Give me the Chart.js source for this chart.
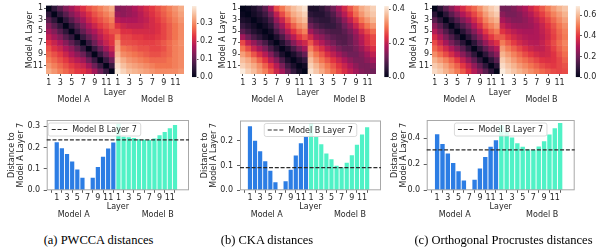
<!DOCTYPE html>
<html>
<head>
<meta charset="utf-8">
<script src="https://cdn.jsdelivr.net/npm/chart.js@4.4.0/dist/chart.umd.min.js"></script>
<style>
  body { margin: 0; background: #fff; }
  #fig { position: relative; width: 598px; height: 251px; overflow: hidden; background: #fff; }
  #fig canvas { position: absolute; }
  .cap { position: absolute; top: 233px; line-height: 14px; font-family: 'Liberation Serif', 'Times New Roman', serif; font-size: 12.5px; color: #000; white-space: nowrap; transform: translateX(-50%); }
</style>
</head>
<body>
<div id="fig">
  <canvas id="heat-a" width="190" height="108" style="left:0px;top:0px"></canvas>
  <canvas id="cbar-a" width="30" height="84" style="left:186px;top:0px"></canvas>
  <canvas id="heat-b" width="182" height="108" style="left:200px;top:0px"></canvas>
  <canvas id="cbar-b" width="26" height="84" style="left:380px;top:0px"></canvas>
  <canvas id="heat-c" width="174" height="108" style="left:400px;top:0px"></canvas>
  <canvas id="cbar-c" width="28" height="84" style="left:570px;top:0px"></canvas>
  <canvas id="bar-a" width="195" height="112" style="left:0px;top:112px"></canvas>
  <canvas id="bar-b" width="190" height="112" style="left:200px;top:112px"></canvas>
  <canvas id="bar-c" width="192" height="112" style="left:388px;top:112px"></canvas>
  <div class="cap" style="left:98.5px">(a) PWCCA distances</div>
  <div class="cap" style="left:267px">(b) CKA distances</div>
  <div class="cap" style="left:503.5px">(c) Orthogonal Procrustes distances</div>
</div>
<script>
// layer labels: Model A layers 1-12 followed by Model B layers 1-12
var layers = ['1', '2', '3', '4', '5', '6', '7', '8', '9', '10', '11', '12'];
var xLabels = layers.concat(layers);
var refLayer = 7; // row "Model A Layer 7" and dashed line "Model B Layer 7"

// distance matrices, rows = Model A layer, columns = Model A 1-12 then Model B 1-12
var pwccaDist = [
  [0, .05, .09, .13, .16, .19, .22, .25, .27, .29, .31, .33, .13, .14, .15, .17, .19, .21, .23, .25, .27, .29, .31, .33],
  [.05, 0, .05, .09, .13, .16, .19, .22, .25, .27, .29, .31, .15, .14, .15, .16, .18, .20, .22, .24, .26, .28, .30, .32],
  [.09, .05, 0, .05, .09, .13, .16, .20, .23, .25, .27, .29, .18, .17, .17, .17, .18, .19, .21, .23, .25, .27, .29, .31],
  [.13, .09, .05, 0, .05, .09, .13, .17, .20, .23, .25, .27, .22, .20, .19, .19, .19, .20, .21, .22, .24, .26, .28, .30],
  [.16, .13, .09, .05, 0, .055, .10, .14, .17, .20, .23, .25, .25, .22, .22, .21, .21, .21, .21, .22, .24, .26, .28, .30],
  [.19, .16, .13, .09, .055, 0, .058, .10, .14, .18, .21, .23, .28, .24, .24, .23, .23, .22, .22, .23, .24, .26, .28, .30],
  [.224, .196, .169, .134, .097, .058, 0, .058, .109, .157, .195, .223, .31, .25, .248, .244, .238, .236, .235, .242, .257, .272, .289, .305],
  [.25, .22, .20, .17, .14, .10, .058, 0, .06, .11, .16, .20, .32, .28, .27, .26, .25, .25, .24, .24, .25, .27, .29, .30],
  [.27, .25, .23, .20, .17, .14, .109, .06, 0, .06, .11, .16, .34, .30, .29, .28, .27, .26, .25, .25, .26, .27, .29, .30],
  [.29, .27, .25, .23, .20, .18, .157, .11, .06, 0, .06, .11, .36, .33, .31, .30, .29, .28, .27, .27, .27, .28, .29, .30],
  [.31, .29, .27, .25, .23, .21, .195, .16, .11, .06, 0, .06, .38, .35, .33, .32, .31, .30, .29, .28, .28, .28, .29, .30],
  [.33, .31, .29, .27, .25, .23, .223, .20, .16, .11, .06, 0, .395, .37, .35, .34, .33, .32, .31, .30, .30, .30, .30, .31]
];

var ckaDist = [
  [0, .01, .03, .06, .10, .17, .26, .30, .34, .37, .39, .41, .03, .03, .05, .08, .12, .17, .22, .27, .31, .35, .37, .39],
  [.01, 0, .02, .04, .07, .12, .20, .26, .31, .35, .37, .39, .05, .04, .04, .06, .09, .14, .19, .24, .29, .33, .36, .38],
  [.03, .02, 0, .02, .04, .08, .158, .21, .27, .32, .35, .37, .08, .06, .05, .05, .07, .10, .15, .20, .25, .30, .33, .36],
  [.06, .04, .02, 0, .02, .05, .117, .17, .23, .28, .32, .34, .12, .09, .07, .06, .06, .08, .12, .16, .21, .26, .30, .33],
  [.10, .07, .04, .02, 0, .02, .079, .13, .19, .24, .28, .31, .17, .13, .11, .09, .08, .08, .10, .13, .17, .22, .26, .29],
  [.17, .12, .08, .05, .02, 0, .033, .08, .14, .19, .24, .27, .22, .17, .15, .12, .10, .09, .09, .11, .15, .19, .23, .26],
  [.259, .20, .158, .117, .079, .033, 0, .037, .083, .141, .19, .216, .27, .215, .186, .149, .125, .099, .092, .111, .142, .184, .225, .255],
  [.30, .26, .21, .17, .13, .08, .037, 0, .03, .08, .13, .17, .31, .26, .23, .19, .16, .13, .11, .11, .13, .16, .20, .23],
  [.34, .31, .27, .23, .19, .14, .083, .03, 0, .03, .07, .11, .34, .30, .27, .23, .20, .17, .14, .12, .12, .14, .17, .20],
  [.37, .35, .32, .28, .24, .19, .141, .08, .03, 0, .03, .06, .37, .33, .30, .27, .24, .21, .18, .15, .13, .13, .15, .17],
  [.39, .37, .35, .32, .28, .24, .19, .13, .07, .03, 0, .02, .39, .36, .33, .30, .27, .24, .21, .18, .15, .13, .13, .14],
  [.42, .39, .37, .34, .31, .27, .216, .17, .11, .06, .02, 0, .41, .38, .35, .32, .29, .26, .23, .20, .17, .14, .13, .12]
];

var procDist = [
  [0, .08, .16, .24, .31, .37, .43, .47, .53, .59, .63, .66, .20, .20, .22, .26, .30, .35, .40, .45, .50, .55, .59, .62],
  [.08, 0, .08, .16, .23, .30, .355, .42, .48, .55, .60, .63, .24, .21, .21, .23, .27, .31, .36, .41, .46, .51, .55, .59],
  [.16, .08, 0, .08, .15, .22, .283, .36, .43, .51, .56, .59, .29, .25, .23, .23, .25, .28, .32, .37, .42, .47, .52, .56],
  [.24, .16, .08, 0, .075, .145, .21, .30, .37, .46, .51, .55, .34, .30, .27, .26, .26, .27, .30, .34, .39, .44, .49, .53],
  [.31, .23, .15, .075, 0, .075, .147, .23, .31, .40, .46, .50, .39, .35, .32, .30, .29, .29, .30, .33, .37, .42, .47, .51],
  [.37, .30, .22, .145, .075, 0, .076, .16, .24, .33, .40, .45, .45, .40, .36, .33, .31, .30, .30, .32, .36, .41, .46, .50],
  [.43, .355, .283, .21, .147, .076, 0, .081, .167, .256, .334, .385, .50, .45, .405, .362, .334, .314, .31, .336, .377, .428, .476, .516],
  [.47, .42, .36, .30, .23, .16, .081, 0, .085, .17, .25, .31, .55, .50, .46, .42, .38, .35, .33, .33, .36, .41, .46, .50],
  [.53, .48, .43, .37, .31, .24, .167, .085, 0, .085, .17, .24, .59, .55, .51, .47, .43, .40, .37, .35, .36, .39, .44, .48],
  [.59, .55, .51, .46, .40, .33, .256, .17, .085, 0, .085, .16, .63, .59, .55, .51, .48, .45, .42, .39, .38, .39, .42, .46],
  [.63, .60, .56, .51, .46, .40, .334, .25, .17, .085, 0, .08, .66, .62, .59, .55, .52, .49, .46, .43, .41, .40, .42, .44],
  [.66, .63, .59, .55, .50, .45, .385, .31, .24, .16, .08, 0, .69, .65, .62, .59, .56, .53, .50, .47, .45, .43, .42, .43]
];

Chart.defaults.font.family = "'DejaVu Sans', sans-serif";
Chart.defaults.font.size = 8;
Chart.defaults.font.lineHeight = 1.125;
Chart.defaults.color = '#262626';
Chart.defaults.animation = false;
Chart.defaults.plugins.legend.display = false;
Chart.defaults.plugins.tooltip.enabled = false;

// seaborn "rocket" colormap stops
var rocket = [
  [0, [3, 5, 26]], [0.143, [53, 25, 62]], [0.286, [112, 31, 87]], [0.429, [173, 23, 89]],
  [0.571, [225, 51, 66]], [0.714, [243, 118, 81]], [0.857, [246, 180, 143]], [1, [250, 235, 221]]
];

function rgb(c) { return 'rgb(' + c.map(Math.round).join(',') + ')'; }

function rocketColor(t) {
  t = Math.max(0, Math.min(1, t));
  for (var i = 1; i < rocket.length; i++) {
    if (t <= rocket[i][0]) {
      var a = rocket[i - 1], b = rocket[i];
      var f = (t - a[0]) / (b[0] - a[0]);
      return rgb(a[1].map((v, k) => v + (b[1][k] - v) * f));
    }
  }
  return rgb(rocket[rocket.length - 1][1]);
}

function matrixMax(m) { return Math.max.apply(null, m.map(r => Math.max.apply(null, r))); }

// "Model A" / "Model B" text under the x axis title
function modelLabels(y, fa, fb) {
  return {
    id: 'modelLabels',
    afterDraw(chart) {
      var a = chart.chartArea, ctx = chart.ctx;
      ctx.save();
      ctx.font = "8px 'DejaVu Sans'";
      ctx.fillStyle = '#262626';
      ctx.textAlign = 'center';
      ctx.textBaseline = 'middle';
      ctx.fillText('Model A', a.left + fa * (a.right - a.left), y);
      ctx.fillText('Model B', a.left + fb * (a.right - a.left), y);
      ctx.restore();
    }
  };
}

function drawHeatmap(id, matrix, yAxisW, titlePad) {
  var vmax = matrixMax(matrix);
  var datasets = matrix.map(function(row) {
    return {
      data: row.map(() => 1),
      backgroundColor: row.map(v => rocketColor(v / vmax)),
      borderWidth: 0,
      barPercentage: 1,
      categoryPercentage: 1
    };
  });
  var oddRows = layers.map((l, i) => i).filter(i => i % 2 === 0);
  new Chart(document.getElementById(id), {
    type: 'bar',
    data: { labels: xLabels, datasets: datasets },
    options: {
      responsive: false,
      devicePixelRatio: 1,
      layout: { padding: { left: 0, top: 5.5, right: 6, bottom: 0 } },
      scales: {
        x: {
          stacked: true,
          border: { display: false },
          grid: { display: true, drawOnChartArea: false, offset: false, tickLength: 2, color: '#333', lineWidth: 0.8 },
          ticks: { autoSkip: false, maxRotation: 0, padding: 2 },
          afterBuildTicks: s => { s.ticks = s.ticks.filter((t, i) => i % 2 === 0); },
          afterFit: s => { s.height = 34; },
          title: { display: true, text: 'Layer', padding: { top: 0, bottom: 10.8 } }
        },
        y: {
          stacked: true,
          min: 0,
          max: layers.length,
          reverse: true,
          border: { display: false },
          grid: { display: true, drawOnChartArea: false, tickLength: 2, color: '#333', lineWidth: 0.8 },
          ticks: { padding: 1, callback: v => layers[Math.floor(v)] },
          afterBuildTicks: s => { s.ticks = oddRows.map(i => ({ value: i + 0.5 })); },
          afterFit: s => { s.width = yAxisW; },
          title: { display: true, text: 'Model A Layer', padding: { top: titlePad, bottom: 0 } }
        }
      }
    },
    plugins: [modelLabels(100.3, 0.2, 0.805)]
  });
}

function drawColorbar(id, matrix, step, padLeft, axisW) {
  var vmax = matrixMax(matrix);
  new Chart(document.getElementById(id), {
    type: 'bar',
    data: {
      labels: [''],
      datasets: [{
        data: [vmax],
        barPercentage: 1,
        categoryPercentage: 1,
        borderWidth: 0,
        backgroundColor: function(c) {
          var a = c.chart.chartArea;
          if (!a) return null;
          var g = c.chart.ctx.createLinearGradient(0, a.bottom, 0, a.top);
          rocket.forEach(s => g.addColorStop(s[0], rgb(s[1])));
          return g;
        }
      }]
    },
    options: {
      responsive: false,
      devicePixelRatio: 1,
      layout: { padding: { left: padLeft, top: 3.3, right: 0, bottom: 6.7 } },
      scales: {
        x: { display: false },
        y: {
          position: 'right',
          min: 0,
          max: vmax,
          border: { display: false },
          grid: { display: true, drawOnChartArea: false, tickLength: 2, color: '#333', lineWidth: 0.8 },
          ticks: { stepSize: step, includeBounds: false, padding: 1.5, callback: v => v.toFixed(1) },
          afterFit: s => { s.width = axisW; }
        }
      }
    }
  });
}

function drawBars(id, matrix, ymax, step, o) {
  var row = matrix[refLayer - 1];
  var ref = row[layers.length + refLayer - 1];
  var points = row.map((v, i) => ({ x: i, y: v }));
  var tickPos = xLabels.map((l, i) => i).filter(i => i % 2 === 0);
  var legendText = 'Model B Layer ' + refLayer;

  var refPlugin = {
    id: 'refLine',
    afterDatasetsDraw(chart) {
      var a = chart.chartArea, ctx = chart.ctx;
      var y = chart.scales.y.getPixelForValue(ref);
      ctx.save();
      // frame
      ctx.strokeStyle = '#a8a8a8';
      ctx.lineWidth = 1;
      ctx.strokeRect(a.left + 0.5, a.top + 0.5, a.right - a.left - 1, a.bottom - a.top - 1);
      // dashed reference line
      ctx.strokeStyle = '#2b2b2b';
      ctx.lineWidth = 1.2;
      ctx.setLineDash([4, 1.8]);
      ctx.beginPath();
      ctx.moveTo(a.left, y);
      ctx.lineTo(a.right, y);
      ctx.stroke();
      // legend box
      ctx.setLineDash([]);
      ctx.font = "8px 'DejaVu Sans'";
      var w = 24 + ctx.measureText(legendText).width + 4, h = 13;
      var x0 = o.legendLeft ? a.left + 1.5 : (a.left + a.right) / 2 - w / 2;
      var y0 = a.top + 3;
      ctx.beginPath();
      ctx.roundRect(x0, y0, w, h, 2);
      ctx.fillStyle = 'rgba(255,255,255,0.8)';
      ctx.fill();
      ctx.strokeStyle = '#d0d0d0';
      ctx.lineWidth = 0.8;
      ctx.stroke();
      ctx.strokeStyle = '#2b2b2b';
      ctx.lineWidth = 1.2;
      ctx.setLineDash([4, 1.8]);
      ctx.beginPath();
      ctx.moveTo(x0 + 3.5, y0 + h / 2);
      ctx.lineTo(x0 + 20.5, y0 + h / 2);
      ctx.stroke();
      ctx.fillStyle = '#262626';
      ctx.textBaseline = 'middle';
      ctx.fillText(legendText, x0 + 24, y0 + h / 2 + 0.5);
      ctx.restore();
    }
  };

  new Chart(document.getElementById(id), {
    type: 'bar',
    data: {
      datasets: [{
        data: points,
        backgroundColor: row.map((v, i) => i < layers.length ? '#2c7de4' : '#50f2c6'),
        borderWidth: 0,
        barPercentage: 0.82,
        categoryPercentage: 1
      }]
    },
    options: {
      responsive: false,
      devicePixelRatio: 1,
      layout: { padding: { left: 0, top: 7, right: o.padRight, bottom: 0 } },
      scales: {
        x: {
          type: 'linear',
          min: -0.8,
          max: 24.57,
          border: { display: false },
          grid: { display: true, drawOnChartArea: false, tickLength: 2.5, color: '#333', lineWidth: 0.8 },
          ticks: { autoSkip: false, maxRotation: 0, padding: 1, callback: v => xLabels[v] },
          afterBuildTicks: s => { s.ticks = tickPos.map(v => ({ value: v })); },
          afterFit: s => { s.height = 33.7; },
          title: { display: true, text: 'Layer', padding: { top: 0, bottom: 12.8 } }
        },
        y: {
          min: 0,
          max: ymax,
          border: { display: false },
          grid: { display: true, drawOnChartArea: false, tickLength: 3, color: '#333', lineWidth: 0.8 },
          ticks: { stepSize: step, includeBounds: false, padding: o.tickPad, callback: v => v.toFixed(1) },
          afterFit: s => { s.width = o.axisW; },
          title: { display: true, text: ['Distance to', 'Model A Layer ' + refLayer], padding: { top: o.titlePad, bottom: 0 } }
        }
      }
    },
    plugins: [refPlugin, modelLabels(103.3, 0.19, 0.78)]
  });
}

drawHeatmap('heat-a', pwccaDist, 46, 25.2);
drawHeatmap('heat-b', ckaDist, 40, 18.5);
drawHeatmap('heat-c', procDist, 32, 9.2);

drawColorbar('cbar-a', pwccaDist, 0.1, 6, 19.5);
drawColorbar('cbar-b', ckaDist, 0.2, 4.3, 17.3);
drawColorbar('cbar-c', procDist, 0.2, 5.7, 18);

drawBars('bar-a', pwccaDist, 0.328, 0.1, { axisW: 46.7, padRight: 6, titlePad: 7.2, tickPad: 3.5, legendLeft: true });
drawBars('bar-b', ckaDist, 0.282, 0.1, { axisW: 40, padRight: 9, titlePad: 0.5, tickPad: 4, legendLeft: false });
drawBars('bar-c', procDist, 0.54, 0.2, { axisW: 38.7, padRight: 5.3, titlePad: 2.5, tickPad: 3.5, legendLeft: false });
</script>
</body>
</html>
